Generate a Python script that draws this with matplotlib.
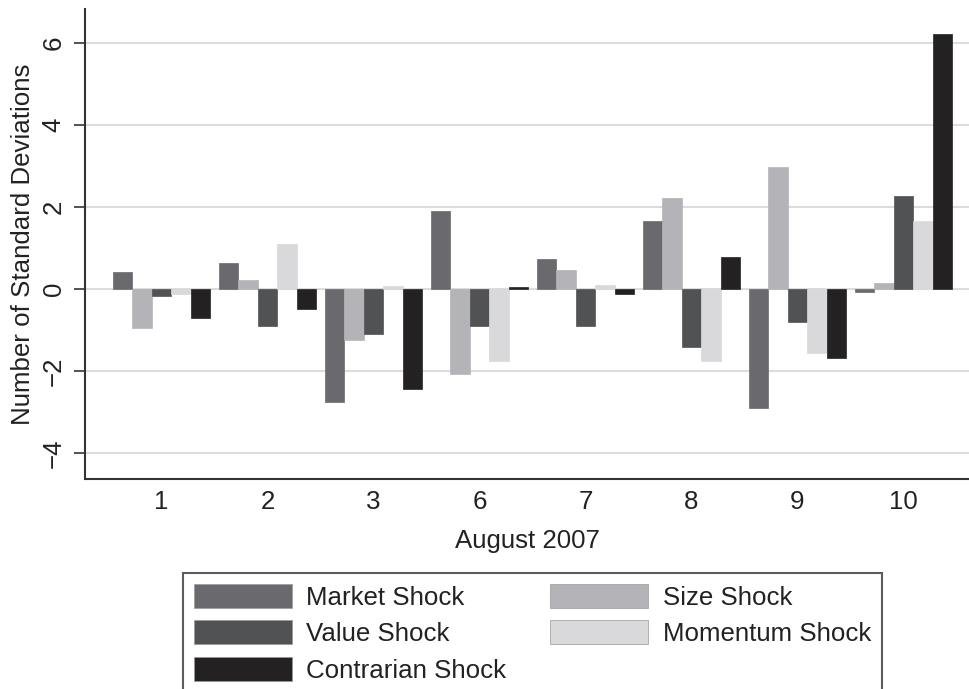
import numpy as np
import matplotlib
matplotlib.use('AGG')
import matplotlib.pyplot as plt
from matplotlib.patches import Patch

plt.rcParams['font.family'] = ['Liberation Sans', 'DejaVu Sans']

days = ['1', '2', '3', '6', '7', '8', '9', '10']
series = ['Market Shock', 'Size Shock', 'Value Shock', 'Momentum Shock', 'Contrarian Shock']
market = [0.42, 0.63, -2.75, 1.91, 0.74, 1.66, -2.89, -0.07]
size = [-0.95, 0.22, -1.25, -2.07, 0.47, 2.22, 2.98, 0.16]
value = [-0.17, -0.90, -1.10, -0.90, -0.90, -1.41, -0.80, 2.26]
momentum = [-0.12, 1.09, 0.07, -1.76, 0.11, -1.76, -1.55, 1.66]
contrarian = [-0.70, -0.49, -2.43, 0.06, -0.13, 0.78, -1.67, 6.21]
colors = ['#6a6a6e', '#b4b4b8', '#505254', '#d9d9db', '#242122']

data = [market, size, value, momentum, contrarian]
fs = 18.6

fig = plt.figure(figsize=(9.69, 6.89), dpi=100)
ax = fig.add_axes([85/969, 1-479/689, 1-85/969, (479-9)/689])

x = np.arange(len(days))
w = 0.183
for k in range(5):
    ax.bar(x + (k-2)*w, data[k], width=w, color=colors[k], edgecolor=colors[k],
           linewidth=0.5, zorder=3)

ax.set_xlim(-0.722, 7.618)
ax.set_ylim(-4.63, 6.83)
ax.set_yticks([-4, -2, 0, 2, 4, 6])
ax.set_yticklabels(['\u22124', '\u22122', '0', '2', '4', '6'], rotation=90, va='center')
ax.set_xticks(x)
ax.set_xticklabels(days)
ax.yaxis.grid(True, color='#dcdcdc', linewidth=1.5, zorder=0)
ax.set_axisbelow(True)

for s in ['top', 'right']:
    ax.spines[s].set_visible(False)
for s in ['left', 'bottom']:
    ax.spines[s].set_color('#333333')
    ax.spines[s].set_linewidth(1.5)

ax.tick_params(axis='y', length=8, width=1.2, color='#333333', labelsize=fs, pad=6, labelcolor='#222222')
ax.tick_params(axis='x', length=0, labelsize=fs, pad=8, labelcolor='#222222')
ax.set_xlabel('August 2007', fontsize=fs, color='#222222', labelpad=11)
ax.set_ylabel('Number of Standard Deviations', fontsize=fs, color='#222222', labelpad=5)

# legend columns: Market/Value/Contrarian then Size/Momentum
order = [0, 2, 4, 1, 3]
handles = [Patch(facecolor=colors[i], edgecolor='#999999', linewidth=0.5) for i in order]
labels = [series[i] for i in order]
leg = fig.legend(handles, labels, loc='upper left', bbox_to_anchor=(183/969, 1-573/689),
                 ncol=2, fontsize=fs, frameon=True, fancybox=False, handlelength=3.8,
                 handleheight=1.05, handletextpad=0.55, labelspacing=0.42,
                 columnspacing=1.7, borderpad=0.42, borderaxespad=0)
leg.get_frame().set_edgecolor('#333333')
leg.get_frame().set_linewidth(1.5)
for t in leg.get_texts():
    t.set_color('#222222')

plt.savefig('out.png', dpi=100)
